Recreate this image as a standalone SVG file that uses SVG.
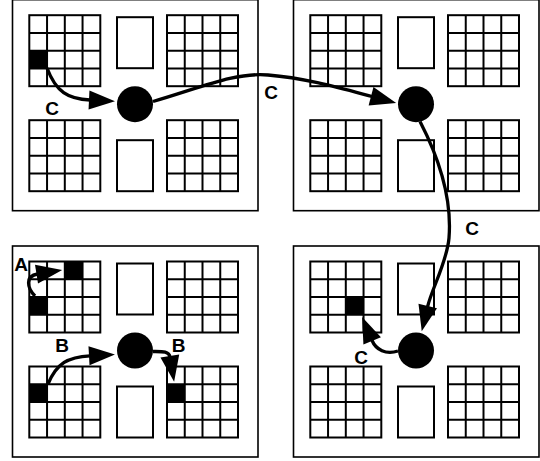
<svg xmlns="http://www.w3.org/2000/svg" xmlns:xlink="http://www.w3.org/1999/xlink" width="540" height="461" viewBox="0 0 540 461">
  <style>
    .frame { fill: #fff; stroke: #000; stroke-width: 1.6; }
    .grid rect, .grid line { fill: none; stroke: #000; stroke-width: 2; }
    .slot { fill: #fff; stroke: #000; stroke-width: 2; }
    .hub { fill: #000; }
    .cell { fill: #000; }
    .wire { fill: none; stroke: #000; stroke-width: 3.3; marker-end: url(#head); }
    .lbl { font-family: "Liberation Sans", Arial, sans-serif; font-weight: bold; font-size: 19px; text-anchor: middle; fill: #000; }
  </style>
  <defs>
    <marker id="head" markerUnits="userSpaceOnUse" markerWidth="28" markerHeight="20" refX="1" refY="9.5" orient="auto" overflow="visible">
      <path d="M0,0 L26,9.5 L0,19 z" fill="#000"/>
    </marker>
    <!-- 4x4 block of cells, 71 px square -->
    <g id="grid" class="grid">
      <rect x="0" y="0" width="71" height="71"/>
      <line x1="17.75" y1="0" x2="17.75" y2="71"/>
      <line x1="35.5" y1="0" x2="35.5" y2="71"/>
      <line x1="53.25" y1="0" x2="53.25" y2="71"/>
      <line x1="0" y1="17.75" x2="71" y2="17.75"/>
      <line x1="0" y1="35.5" x2="71" y2="35.5"/>
      <line x1="0" y1="53.25" x2="71" y2="53.25"/>
    </g>
    <!-- one tile: frame, four grids, two slots, central hub -->
    <g id="tile">
      <rect class="frame" x="0" y="0" width="245.5" height="211"/>
      <use xlink:href="#grid" x="16.8" y="15.5"/>
      <use xlink:href="#grid" x="154.5" y="15.5"/>
      <use xlink:href="#grid" x="16.8" y="120.5"/>
      <use xlink:href="#grid" x="154.5" y="120.5"/>
      <rect class="slot" x="104.5" y="17.5" width="36" height="51"/>
      <rect class="slot" x="104.5" y="140.5" width="36" height="51"/>
      <circle class="hub" cx="122.5" cy="104.5" r="18"/>
    </g>
  </defs>

  <rect x="0" y="0" width="540" height="461" fill="#fff"/>

  <g id="tile-top-left">
    <use xlink:href="#tile" x="12.5" y="-0.3"/>
    <rect class="cell" x="29.3" y="50.5" width="17.75" height="17.75"/>
  </g>
  <g id="tile-top-right">
    <use xlink:href="#tile" x="293.5" y="-0.3"/>
  </g>
  <g id="tile-bottom-left">
    <use xlink:href="#tile" x="12.5" y="246"/>
    <rect class="cell" x="64.8" y="261.5" width="17.75" height="17.75"/>
    <rect class="cell" x="29.3" y="297" width="17.75" height="17.75"/>
    <rect class="cell" x="29.3" y="384.25" width="17.75" height="17.75"/>
    <rect class="cell" x="167" y="384.25" width="17.75" height="17.75"/>
  </g>
  <g id="tile-bottom-right">
    <use xlink:href="#tile" x="293.5" y="246"/>
    <rect class="cell" x="345.8" y="297" width="17.75" height="17.75"/>
  </g>

  <g id="connectors">
    <path class="wire" d="M47,68 C 56,92 68,99 90,100"/>
    <path class="wire" d="M153,101.5 C 200,88 235,72 268,75 C 305,78 340,88 372,96.5"/>
    <path class="wire" d="M420,121.5 C 440,160 452,200 449,238 C 447,262 432,288 427.5,307"/>
    <path class="wire" d="M398,351 C 386,355 376,350 371.8,340"/>
    <path class="wire" d="M35,296 C 27,288 25,276 37.5,274"/>
    <path class="wire" d="M48,384 C 57,363 68,357 90,355.8"/>
    <path class="wire" d="M153,351.5 C 162,351.5 169,351 170,357"/>
  </g>

  <g id="labels">
    <text class="lbl" x="52" y="114.5">C</text>
    <text class="lbl" x="271" y="99">C</text>
    <text class="lbl" x="472" y="235">C</text>
    <text class="lbl" x="361" y="364">C</text>
    <text class="lbl" x="21" y="270.5">A</text>
    <text class="lbl" x="62" y="351.5">B</text>
    <text class="lbl" x="178.5" y="351.5">B</text>
  </g>
</svg>
